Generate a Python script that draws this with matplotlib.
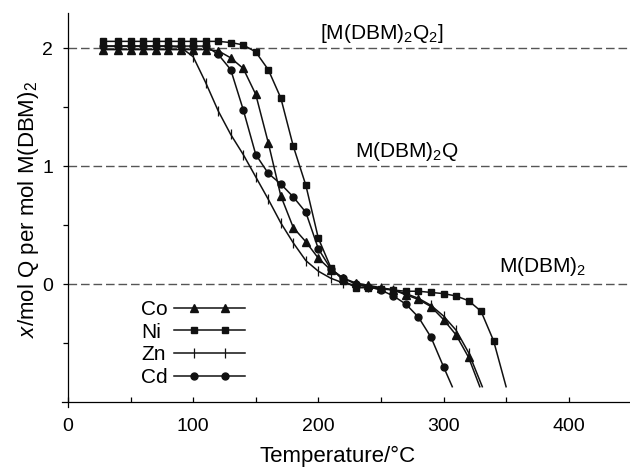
import matplotlib
matplotlib.use("Agg")
import numpy as np
import matplotlib.pyplot as plt
from matplotlib.lines import Line2D
from matplotlib.legend_handler import HandlerLine2D

plt.rcParams['font.family'] = ['Liberation Sans', 'DejaVu Sans']
plt.rcParams['mathtext.fontset'] = 'custom'
plt.rcParams['mathtext.rm'] = 'Liberation Sans'
plt.rcParams['mathtext.it'] = 'Liberation Sans:italic'

# temperatures (deg C), last value of each series is the curve end (no marker)
temp_co = [28, 40, 50, 60, 70, 80, 90, 100, 110, 120, 130, 140, 150, 160, 170, 180, 190, 200,
           210, 220, 230, 240, 250, 260, 270, 280, 290, 300, 310, 320, 329]
co = [1.99, 1.99, 1.99, 1.99, 1.99, 1.99, 1.99, 1.99, 1.99, 1.98, 1.92, 1.83, 1.61, 1.20, 0.75, 0.48, 0.36, 0.22,
      0.12, 0.05, 0.01, -0.01, -0.03, -0.05, -0.09, -0.13, -0.19, -0.30, -0.43, -0.62, -0.87]

temp_ni = [28, 40, 50, 60, 70, 80, 90, 100, 110, 120, 130, 140, 150, 160, 170, 180, 190, 200,
           210, 220, 230, 240, 250, 260, 270, 280, 290, 300, 310, 320, 330, 340, 350]
ni = [2.06, 2.06, 2.06, 2.06, 2.06, 2.06, 2.06, 2.06, 2.06, 2.06, 2.05, 2.03, 1.97, 1.82, 1.58, 1.17, 0.84, 0.39,
      0.14, 0.03, -0.03, -0.03, -0.04, -0.05, -0.06, -0.06, -0.07, -0.08, -0.10, -0.14, -0.23, -0.48, -0.87]

temp_zn = [28, 40, 50, 60, 70, 80, 90, 100, 110, 120, 130, 140, 150, 160, 170, 180, 190, 200,
           210, 220, 230, 240, 250, 260, 270, 280, 290, 300, 310, 320, 331]
zn = [2.02, 2.02, 2.02, 2.02, 2.02, 2.02, 2.01, 1.93, 1.71, 1.47, 1.27, 1.10, 0.91, 0.72, 0.52, 0.35, 0.20, 0.11,
      0.05, 0.01, -0.01, -0.02, -0.03, -0.05, -0.08, -0.12, -0.18, -0.27, -0.39, -0.58, -0.87]

temp_cd = [28, 40, 50, 60, 70, 80, 90, 100, 110, 120, 130, 140, 150, 160, 170, 180, 190, 200,
           210, 220, 230, 240, 250, 260, 270, 280, 290, 300, 307]
cd = [2.02, 2.02, 2.02, 2.02, 2.02, 2.02, 2.02, 2.02, 2.02, 1.95, 1.82, 1.48, 1.10, 0.94, 0.85, 0.74, 0.61, 0.30,
      0.13, 0.05, 0.0, -0.02, -0.05, -0.10, -0.17, -0.28, -0.45, -0.70, -0.87]

levels = [2, 1, 0]
level_labels = [r'[M(DBM)$_2$Q$_2$]', r'M(DBM)$_2$Q', r'M(DBM)$_2$']
level_label_x = [251, 271, 379]
level_label_y = [2.08, 1.08, 0.10]


class FullLineHandler(HandlerLine2D):
    # line spans the whole handle, two markers sit inside it
    def create_artists(self, legend, orig_handle, xdescent, ydescent, width, height, fontsize, trans):
        pad = self._marker_pad * fontsize
        xdata = np.array([-xdescent, -xdescent + pad, width - xdescent - pad, width - xdescent])
        ydata = np.full_like(xdata, (height - ydescent) / 2)
        legline = Line2D(xdata, ydata)
        self.update_prop(legline, orig_handle, legend)
        legline.set_markevery([1, 2])
        legline.set_transform(trans)
        return [legline]


fig = plt.figure(figsize=(6.3, 4.67), dpi=100)
ax = fig.add_axes([0.098, 0.129, 0.904, 0.843])

ax.hlines(levels, 0, 450, colors='#555555', linewidth=1.0, linestyles=(0, (6.2, 2.8)))
for lab, lx, ly in zip(level_labels, level_label_x, level_label_y):
    ax.text(lx, ly, lab, ha='center', va='baseline', fontsize=15)

lw = 1.1
l_co, = ax.plot(temp_co, co, color='#111111', lw=lw, marker='^', ms=6, markevery=slice(0, -1))
l_ni, = ax.plot(temp_ni, ni, color='#111111', lw=lw, marker='s', ms=5, markevery=slice(0, -1))
l_zn, = ax.plot(temp_zn, zn, color='#111111', lw=lw, marker='|', ms=7, mew=0.9, markevery=slice(0, -1))
l_cd, = ax.plot(temp_cd, cd, color='#111111', lw=lw, marker='o', ms=5, markevery=slice(0, -1))
names = ['Co', 'Ni', 'Zn', 'Cd']

ax.set_xlim(-5, 450)
ax.set_ylim(-1.04, 2.3)
ax.spines['left'].set_position(('data', 0))
ax.spines['bottom'].set_position(('data', -1))
ax.spines['top'].set_visible(False)
ax.spines['right'].set_visible(False)
for s in ['left', 'bottom']:
    ax.spines[s].set_linewidth(0.9)

ax.set_xticks([0, 100, 200, 300, 400])
ax.set_xticks([50, 150, 250, 350], minor=True)
ax.set_yticks([0, 1, 2])
ax.set_yticks([-0.5, 0.5, 1.5], minor=True)
ax.tick_params(axis='x', which='both', direction='in', length=3.6, width=0.9, labelsize=14, pad=11.3)
ax.tick_params(axis='y', which='both', direction='out', length=3.6, width=0.9, labelsize=14, pad=7)

ax.set_xlabel('Temperature/°C', fontsize=16, va='center')
ax.xaxis.set_label_coords(0.4836, -0.125)
ax.set_ylabel(r'$x$/mol Q per mol M(DBM)$_2$', fontsize=16, va='center')
ax.yaxis.set_label_coords(-0.059, 0.5)

# legend: left-aligned names, then line samples (two legends sharing rows)
leg_kw = dict(loc='upper left', bbox_transform=fig.transFigure, frameon=False, fontsize=15,
              labelspacing=0.18, borderpad=0, borderaxespad=0)
blank = [Line2D([], [], alpha=0) for _ in names]
leg_names = ax.legend(blank, names, bbox_to_anchor=(141 / 630, 1 - 300 / 467),
                      handlelength=0, handletextpad=0, **leg_kw)
ax.add_artist(leg_names)
ax.legend([l_co, l_ni, l_zn, l_cd], [' '] * 4, bbox_to_anchor=(174 / 630, 1 - 300 / 467),
          handlelength=3.4, handletextpad=0, **leg_kw,
          handler_map={Line2D: FullLineHandler(marker_pad=0.97)})

fig.savefig('out.png', dpi=100)
